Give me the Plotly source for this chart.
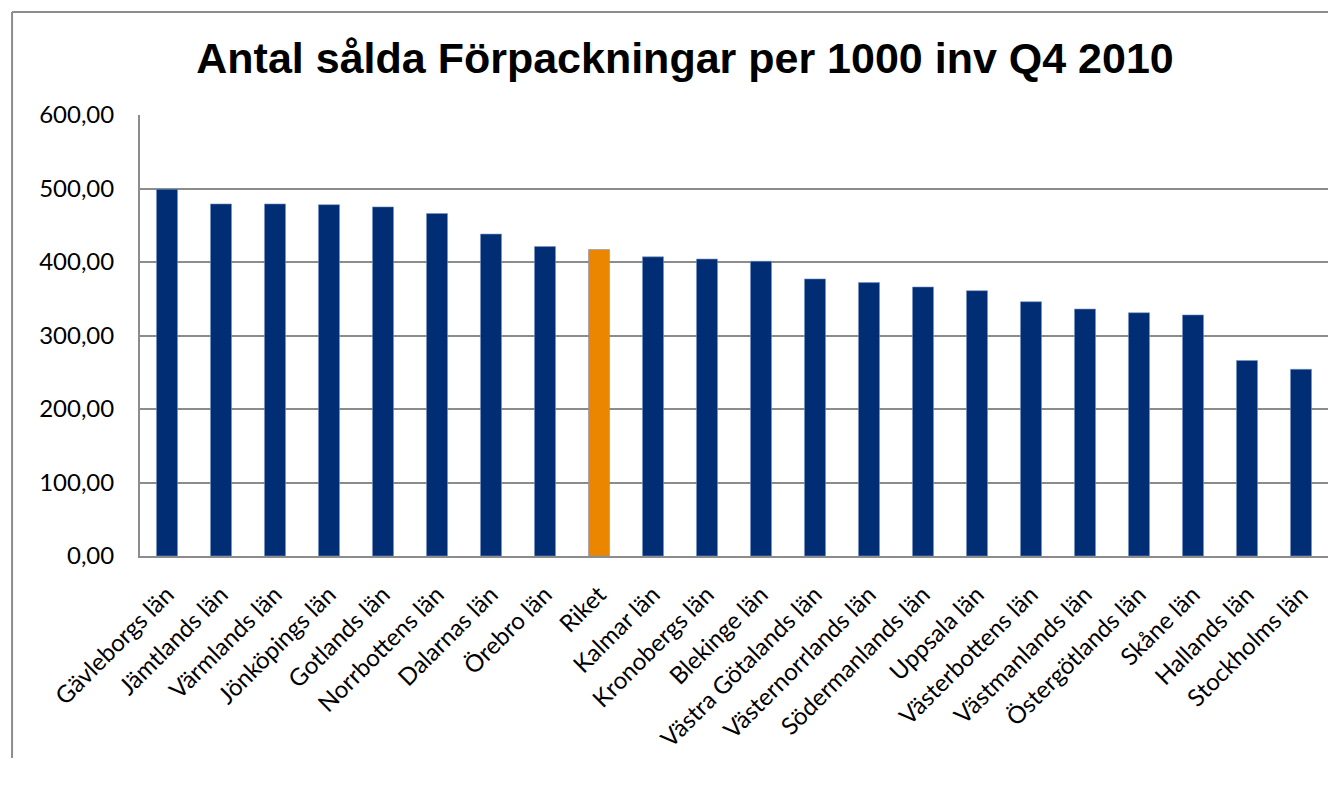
import plotly.graph_objects as go

# Antal sålda förpackningar per 1000 invånare, Q4 2010
lan = [
    "Gävleborgs län", "Jämtlands län", "Värmlands län", "Jönköpings län",
    "Gotlands län", "Norrbottens län", "Dalarnas län", "Örebro län", "Riket",
    "Kalmar län", "Kronobergs län", "Blekinge län", "Västra Götalands län",
    "Västernorrlands län", "Södermanlands län", "Uppsala län",
    "Västerbottens län", "Västmanlands län", "Östergötlands län",
    "Skåne län", "Hallands län", "Stockholms län",
]
antal = [499, 479, 479, 478, 475, 466, 438, 421, 417, 407, 404, 401,
         377, 372, 366, 361, 346, 336, 331, 328, 266, 254]

NAVY = "#002D74"
ORANGE = "#EA8600"
colors = [ORANGE if n == "Riket" else NAVY for n in lan]

fig = go.Figure(go.Bar(
    x=lan,
    y=antal,
    marker=dict(color=colors, line=dict(color="rgba(120,150,200,0.6)", width=1)),
    hoverinfo="x+y",
))

# chart frame: only the top and left edges are visible in the original
frame = dict(color="#8C8C8C", width=2)

# the page body adds an 8px margin all round, so keep the figure small enough
# that the window gets no scrollbars
fig.update_layout(
    width=1320,
    height=750,
    margin=dict(l=132, r=0, t=107, b=202),
    paper_bgcolor="white",
    plot_bgcolor="white",
    bargap=0.61,
    showlegend=False,
    separators=", ",
    font=dict(family="Lato, Open Sans, sans-serif", size=24, color="black"),
    title=dict(
        text="<b>Antal sålda Förpackningar per 1000 inv Q4 2010</b>",
        font=dict(family="Liberation Sans, Arial, sans-serif", size=43, color="black"),
        x=0.5129, xref="container", xanchor="center",
        y=0.9333, yref="container", yanchor="middle",
    ),
    xaxis=dict(
        tickangle=-45,
        showline=True, linecolor="#8C8C8C", linewidth=2,
        showgrid=False,
        ticks="", ticklabelstandoff=13,
        tickfont=dict(size=24),
        automargin=False,
    ),
    yaxis=dict(
        range=[0, 600],
        dtick=100,
        tickformat=".2f",
        showgrid=True, gridcolor="#8C8C8C", gridwidth=2,
        showline=True, linecolor="#8C8C8C", linewidth=2,
        zeroline=False,
        ticks="", ticklabelstandoff=19,
        tickfont=dict(size=24),
        automargin=False,
    ),
    shapes=[
        dict(type="line", xref="paper", yref="paper",
             x0=-0.1077, x1=-0.1077, y0=-0.6, y1=1.2336, line=frame),
        dict(type="line", xref="paper", yref="paper",
             x0=-0.1077, x1=1.02, y0=1.2336, y1=1.2336, line=frame),
    ],
)

fig.write_html("out.html")
